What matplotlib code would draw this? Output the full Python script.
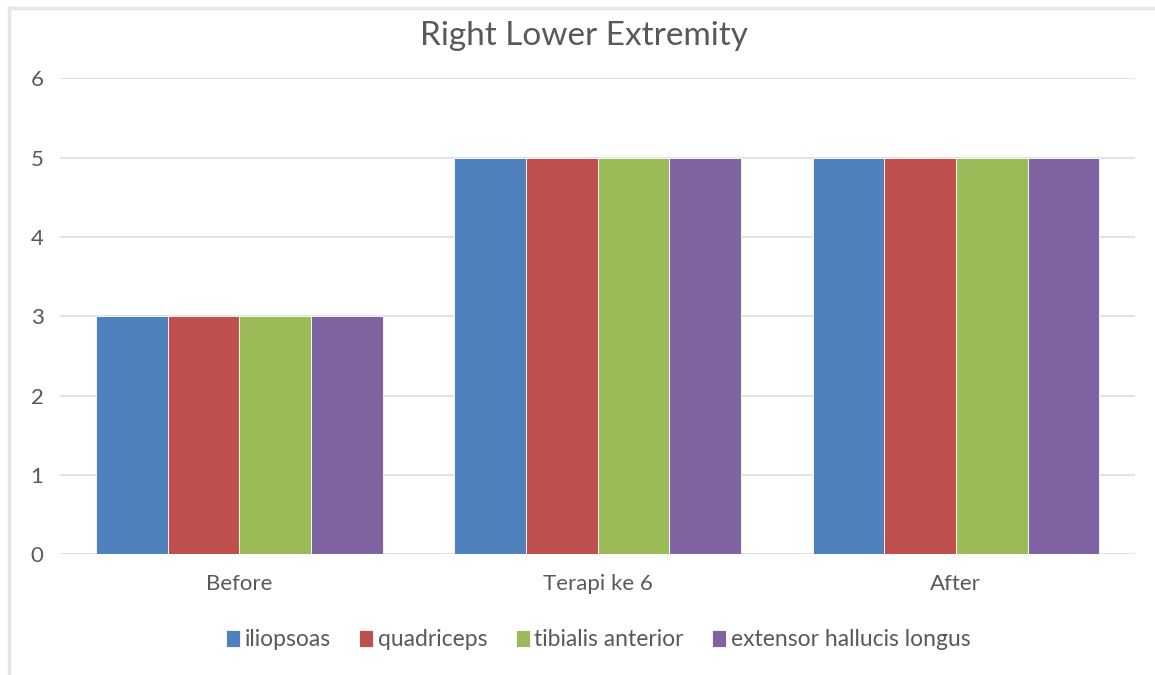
import numpy as np
import matplotlib.pyplot as plt
from matplotlib.lines import Line2D

plt.rcParams['font.family'] = ['Lato', 'DejaVu Sans']

categories = ["Before", "Terapi ke 6", "After"]
muscles = ["iliopsoas", "quadriceps", "tibialis anterior", "extensor hallucis longus"]
iliopsoas = [3, 5, 5]
quadriceps = [3, 5, 5]
tibialis_anterior = [3, 5, 5]
extensor_hallucis_longus = [3, 5, 5]
colors = ["#4F81BD", "#C0504D", "#9BBB59", "#8064A2"]

series = [iliopsoas, quadriceps, tibialis_anterior, extensor_hallucis_longus]

fig = plt.figure(figsize=(11.55, 6.75), dpi=100)
ax = fig.add_axes([0.052, 0.179, 0.9307, 0.705])

x = np.arange(len(categories))
w = 0.2
for i, (vals, name, c) in enumerate(zip(series, muscles, colors)):
    ax.bar(x + (i - 1.5) * w, vals, w, color=c, label=name,
           edgecolor="white", linewidth=0.6, zorder=3)

ax.set_xlim(-0.5, 2.5)
ax.set_ylim(0, 6)
ax.set_yticks(range(0, 7))
ax.set_xticks(x)
ax.set_xticklabels(categories)
ax.grid(axis="y", color="#E3E3E3", linewidth=1.5, zorder=0)
for s in ax.spines.values():
    s.set_visible(False)
ax.tick_params(length=0, colors="#595959", labelsize=16)
ax.tick_params(axis="x", pad=14)
ax.tick_params(axis="y", pad=12)

fig.text(0.506, 0.946, "Right Lower Extremity", ha="center", va="center",
         fontsize=24, color="#595959")

# chart frame: left and top edges
fig.add_artist(Line2D([0.0075, 0.0075], [0.0, 0.988], color="#E6E6E6", lw=2.5,
                      transform=fig.transFigure))
fig.add_artist(Line2D([0.0075, 1.0], [0.988, 0.988], color="#E6E6E6", lw=2.5,
                      transform=fig.transFigure))

fig.legend(loc="center", bbox_to_anchor=(0.518, 0.052), ncol=4, frameon=False,
           fontsize=16.5, labelcolor="#595959", handlelength=0.6, handleheight=0.8,
           handletextpad=0.2, columnspacing=1.25)

fig.savefig("out.png", dpi=100, facecolor="white")
